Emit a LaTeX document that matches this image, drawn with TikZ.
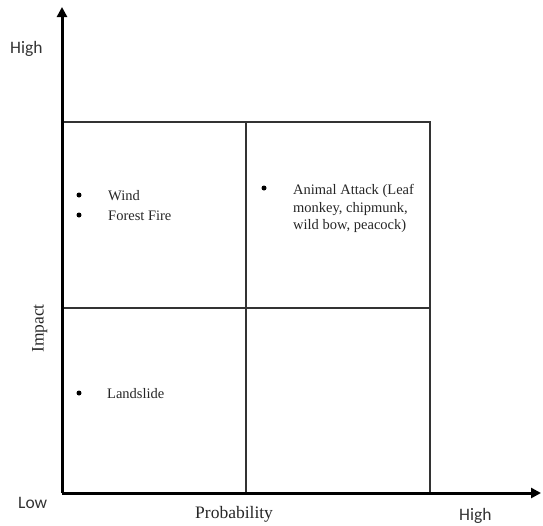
\documentclass[tikz,border=0pt]{standalone}
\usepackage{fontspec}
\setmainfont{Liberation Serif}
\newfontfamily\labelsans{Carlito}
\usetikzlibrary{arrows.meta}
\begin{document}
\begin{tikzpicture}[x=1pt,y=-1pt,
  axisline/.style={line width=3pt,black,-{Triangle[length=10pt,width=10pt]}},
  gridline/.style={line width=1.8pt,black!80},
  dotmark/.style={circle,fill=black,inner sep=0pt,minimum size=5pt},
  itemtext/.style={anchor=base west,inner sep=0pt,font=\fontsize{14.5}{17}\selectfont,text=black!85},
  axislabel/.style={anchor=base west,inner sep=0pt,font=\fontsize{17.5}{20}\selectfont,text=black!85},
  endlabel/.style={anchor=base west,inner sep=0pt,font=\labelsans\fontsize{17.5}{20}\selectfont,text=black!80}]
  \useasboundingbox (0,0) rectangle (543,525);

  % axes and grid corners
  \coordinate (origin) at (62,493);
  \coordinate (ytip) at (62,7);
  \coordinate (xtip) at (541,493);
  \coordinate (tl) at (62,122);
  \coordinate (tm) at (246,122);
  \coordinate (tr) at (430,122);
  \coordinate (ml) at (62,308);
  \coordinate (mr) at (430,308);
  \coordinate (bm) at (246,493);
  \coordinate (br) at (430,493);

  % quadrant grid
  \draw[gridline] (tl) -- (tr) -- (br);
  \draw[gridline] (tm) -- (bm);
  \draw[gridline] (ml) -- (mr);

  % axes
  \draw[axisline] (origin) -- (ytip);
  \draw[axisline] (origin) -- (xtip);

  % axis labels
  \node[endlabel] (yhigh) at (10,53.3) {High};
  \node[endlabel] (low) at (18,508.3) {Low};
  \node[endlabel] (xhigh) at (459,520) {High};
  \node[axislabel] (prob) at (195,518.3) {Probability};
  \node[axislabel,rotate=90] (impact) at (43.5,353) {Impact};

  % high impact, low probability
  \node[dotmark] (b1) at (79,195) {};
  \node[itemtext] (wind) at (108,200) {Wind};
  \node[dotmark] (b2) at (79,215) {};
  \node[itemtext] (fire) at (108,220) {Forest Fire};

  % high impact, high probability
  \node[dotmark] (b3) at (264,188) {};
  \node[itemtext] (animal1) at (293,194.5) {Animal Attack (Leaf};
  \node[itemtext] (animal2) at (293,212) {monkey, chipmunk,};
  \node[itemtext] (animal3) at (293,229.5) {wild bow, peacock)};

  % low impact, low probability
  \node[dotmark] (b4) at (79,393) {};
  \node[itemtext] (slide) at (107,398) {Landslide};
\end{tikzpicture}
\end{document}
